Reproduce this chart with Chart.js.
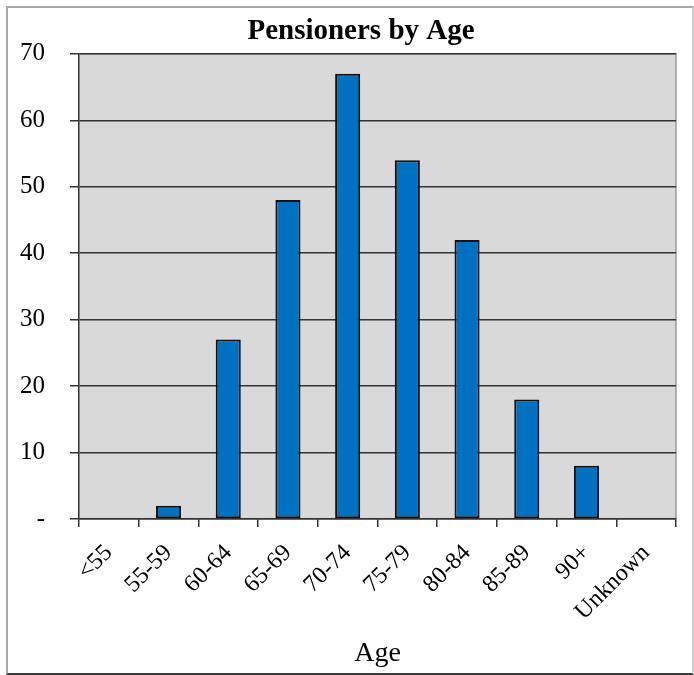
<!DOCTYPE html>
<html>
<head>
<meta charset="utf-8">
<title>Pensioners by Age</title>
<script src="https://cdn.jsdelivr.net/npm/chart.js@4.4.1/dist/chart.umd.min.js"></script>
<style>
  body { margin: 0; background: #fff; }
  #wrap { position: relative; width: 694px; height: 675px; }
  #frame {
    position: absolute; left: 6px; top: 6px; width: 684px; height: 665px;
    border-left: 2px solid #a8a8a8; border-top: 2px solid #a8a8a8;
    border-right: 2px solid #d0d0d0; border-bottom: 2px solid #3c3c3c;
    pointer-events: none;
  }
  canvas { position: absolute; left: 0; top: 0; }
</style>
</head>
<body>
<div id="wrap">
  <canvas id="chart" width="694" height="675"></canvas>
  <div id="frame"></div>
</div>
<script>
// data
const ageGroups = ['<55', '55-59', '60-64', '65-69', '70-74', '75-79', '80-84', '85-89', '90+', 'Unknown'];
const pensioners = [0, 2, 27, 48, 67, 54, 42, 18, 8, 0];
const yTicks = [0, 10, 20, 30, 40, 50, 60, 70];

const serif = "'Liberation Serif', 'Times New Roman', serif";
const gridDark = '#333333';

// grey plot background + light border on top/right like the excel chart
const plotBg = {
  id: 'plotBg',
  afterLayout(chart){
    // title sits centred over the plot, not the whole canvas
    if (chart.titleBlock) {
      chart.titleBlock.left += 21;
      chart.titleBlock.right += 21;
    }
  },
  beforeDraw(chart){
    const {ctx, chartArea: a} = chart;
    ctx.save();
    ctx.fillStyle = '#d9d9d9';
    ctx.fillRect(a.left, a.top, a.right - a.left, a.bottom - a.top);
    ctx.strokeStyle = '#9a9a9a';
    ctx.lineWidth = 1.5;
    ctx.beginPath();
    ctx.moveTo(a.left, a.top);
    ctx.lineTo(a.right, a.top);
    ctx.lineTo(a.right, a.bottom);
    ctx.stroke();
    ctx.restore();
  }
};

const ctx = document.getElementById('chart').getContext('2d');
const chart = new Chart(ctx, {
  type: 'bar',
  data: {
    labels: ageGroups,
    datasets: [{
      label: 'Pensioners',
      data: pensioners,
      backgroundColor: '#0070c0',
      borderColor: '#111111',
      borderWidth: 2,
      borderSkipped: false,
      barPercentage: 0.42,
      categoryPercentage: 1.0
    }]
  },
  options: {
    responsive: false,
    animation: false,
    layout: { padding: { left: 4, right: 18, top: 14, bottom: 5 } },
    plugins: {
      legend: { display: false },
      tooltip: { enabled: false },
      title: {
        display: true,
        text: 'Pensioners by Age',
        color: '#000',
        font: { family: serif, size: 29, weight: 'bold' },
        padding: { top: 0, bottom: 5 }
      }
    },
    scales: {
      x: {
        grid: {
          offset: true,
          drawOnChartArea: false,
          drawTicks: true,
          tickLength: 8,
          color: gridDark,
          lineWidth: 1.5
        },
        border: { display: true, color: gridDark, width: 1.5 },
        ticks: {
          color: '#000',
          font: { family: serif, size: 24 },
          minRotation: 45,
          maxRotation: 45,
          padding: 12,
          autoSkip: false
        },
        title: {
          display: true,
          text: 'Age',
          color: '#000',
          font: { family: serif, size: 28 },
          padding: 0
        },
        afterFit(scale){ scale.height = 151; }
      },
      y: {
        min: yTicks[0],
        max: yTicks[yTicks.length - 1],
        grid: {
          color: gridDark,
          lineWidth: 1.5,
          tickLength: 9,
          drawTicks: true
        },
        border: { display: true, color: gridDark, width: 1.5 },
        ticks: {
          stepSize: yTicks[1] - yTicks[0],
          color: '#000',
          font: { family: serif, size: 25 },
          padding: 25,
          callback: v => v === 0 ? '-' : String(v)
        },
        afterFit(scale){ scale.width = 75; }
      }
    }
  },
  plugins: [plotBg]
});
</script>
</body>
</html>
